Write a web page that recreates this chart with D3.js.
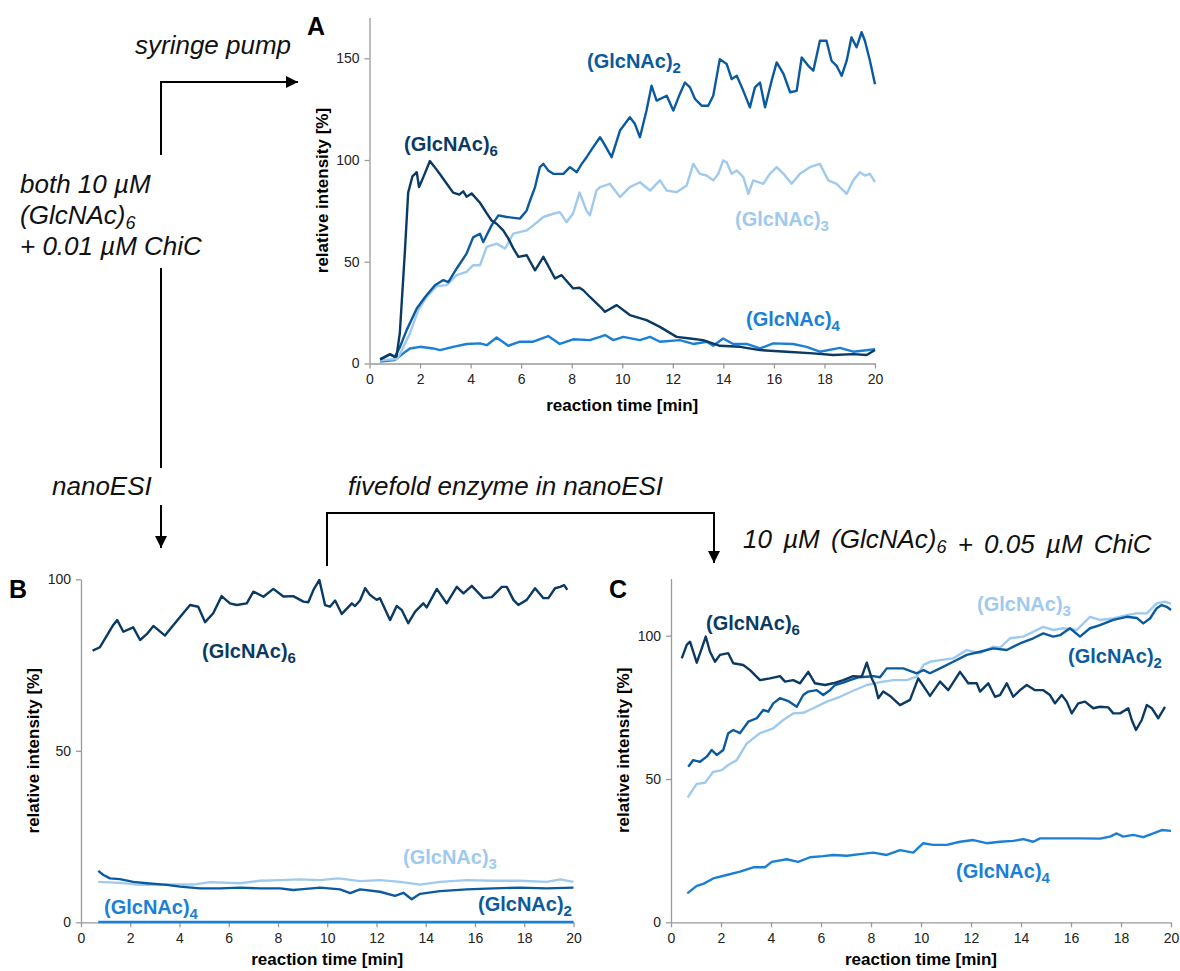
<!DOCTYPE html>
<html><head><meta charset="utf-8">
<script src="https://cdn.jsdelivr.net/npm/d3@7"></script>
<style>body{margin:0;background:#fff}svg{display:block}</style>
</head><body><svg id="c" width="1180" height="971"></svg>
<script>
// ---------- DATA ----------
const xTicks = [0,2,4,6,8,10,12,14,16,18,20];
const yTicksA = [0,50,100,150];
const yTicksBC = [0,50,100];
const seriesNames = ["(GlcNAc)6","(GlcNAc)2","(GlcNAc)3","(GlcNAc)4"];

// Panel A (syringe pump) [time min, relative intensity %]
const A6 = [[0.42,2],[0.81,4.6],[1.0,3.3],[1.07,3.5],[1.2,15],[1.4,55],[1.53,84],[1.7,92],[1.87,94],[1.96,86.7],[2.13,91.6],[2.39,99.5],[2.55,97],[2.79,93],[3.05,88.5],[3.31,84],[3.55,83],[3.71,84.6],[3.84,82],[4.04,83.6],[4.37,79],[4.64,73.8],[4.83,70.3],[5.03,68.7],[5.29,65.4],[5.49,61.5],[5.69,56.6],[5.89,52.4],[6.22,53.2],[6.55,45.8],[6.88,52.4],[7.34,41.8],[7.6,43.4],[8.06,36.9],[8.31,37.2],[8.46,36],[8.72,32.7],[9.12,28],[9.32,25.4],[9.78,28.7],[10.3,23.8],[10.96,21.3],[11.49,18],[12.15,13.1],[12.68,12.3],[13.2,11.5],[13.86,8.7],[14.66,8.2],[15.45,6.6],[16.5,5.8],[17.56,5],[18.35,4.2],[19.14,4.6],[19.67,4.2],[20,6.6]];
const A2 = [[0.42,2],[0.81,4.4],[1.0,3.2],[1.2,8],[1.47,16.4],[1.87,27],[2.2,32.7],[2.59,38.5],[2.92,41],[3.12,40],[3.45,46.7],[3.84,54],[4.1,62],[4.37,63.8],[4.5,59.7],[4.83,67.9],[5.1,72.8],[5.43,72],[5.95,71.2],[6.22,75.2],[6.35,80],[6.55,86.7],[6.74,96.5],[6.88,98.1],[7.07,94.9],[7.27,93.2],[7.67,93.2],[7.93,96.5],[8.2,94],[8.39,98],[8.59,101.4],[8.85,106.3],[9.12,111.2],[9.25,108.7],[9.58,101.4],[9.91,114.5],[10.3,121],[10.5,117.8],[10.7,111.2],[10.96,124.3],[11.16,136.5],[11.36,129.2],[11.76,131.6],[12.02,124.3],[12.28,132.5],[12.48,138.1],[12.68,135.7],[12.88,130],[13.14,126.7],[13.4,126.7],[13.6,131.6],[13.86,149.6],[14.13,147.2],[14.33,139.8],[14.53,141.4],[14.79,134],[15.05,125.9],[15.25,135.7],[15.45,138.1],[15.65,125.9],[15.91,139],[16.11,148],[16.38,142.3],[16.64,133.3],[16.9,134],[17.1,150.4],[17.36,146.3],[17.56,143.9],[17.82,158.6],[18.08,158.6],[18.28,148.8],[18.48,146.3],[18.68,141.4],[18.88,148.8],[19.07,160.3],[19.27,155.4],[19.47,162.8],[19.6,158.6],[19.8,148.8],[20,137.3]];
const A3 = [[0.42,1.5],[0.8,2],[1.1,2.2],[1.3,7],[1.6,14.8],[1.93,26.2],[2.26,32.7],[2.66,38],[3.05,38.5],[3.45,43.4],[3.84,45],[4.1,48.3],[4.37,48.3],[4.64,57.3],[5.03,58.9],[5.36,56.5],[5.69,63.8],[6.22,65.4],[6.48,67.9],[6.88,72],[7.27,73.6],[7.53,74.4],[7.8,69.5],[8.05,73.6],[8.31,84],[8.59,75],[8.72,72.8],[8.98,85],[9.12,86.7],[9.51,88.3],[9.91,81.8],[10.3,86.7],[10.7,89.1],[11.1,85],[11.49,90],[11.76,85],[12.15,84.2],[12.55,87.5],[12.81,98.1],[13.07,93.2],[13.34,92.4],[13.6,90],[13.8,93.2],[13.99,99.8],[14.13,98.9],[14.33,93.2],[14.53,94.9],[14.79,91.6],[14.99,83.4],[15.18,90],[15.58,88.3],[15.84,93.2],[16.11,96.5],[16.38,93.2],[16.7,88.3],[17.03,93.2],[17.42,96.5],[17.82,98.1],[18.15,90],[18.48,88.3],[18.88,83.4],[19.14,90],[19.4,94],[19.6,92.4],[19.8,93.2],[20,89.1]];
const A4 = [[0.42,1],[1.0,1.7],[1.34,5],[1.6,7.4],[2.0,8.2],[2.52,7.4],[2.79,6.6],[3.31,8.2],[3.84,9.6],[4.37,9.9],[4.64,9],[5.03,12.8],[5.49,8.7],[5.95,10.7],[6.48,10.7],[7.07,13.5],[7.53,9.6],[8.06,11.9],[8.72,11.5],[9.12,13.1],[9.32,14],[9.65,11.5],[10.04,13.1],[10.7,11.5],[11.1,13.1],[11.49,10.7],[12.28,11.5],[12.81,9.6],[13.34,10.7],[13.6,8.7],[13.99,12.3],[14.39,9.6],[14.92,9.6],[15.45,7.4],[15.97,9.9],[16.76,9.6],[17.29,8.2],[17.82,5.8],[18.61,7.7],[19.14,5.8],[20,7]];

// Panel B (nanoESI)
const B6 = [[0.47,79.2],[0.77,80.2],[1.31,86.7],[1.47,88.1],[1.72,84.7],[2.12,86],[2.4,82.3],[2.67,84],[2.94,86.4],[3.41,83.6],[3.68,86],[4.09,89.6],[4.43,92.5],[4.76,92],[5.04,87.5],[5.37,90.1],[5.71,95.1],[6.05,93],[6.32,92.5],[6.73,93],[7.0,96.4],[7.41,94.9],[7.81,97.2],[8.22,95],[8.62,95.1],[9.03,93.5],[9.23,93.3],[9.44,96.9],[9.68,99.8],[9.91,92.5],[10.11,92],[10.32,93.8],[10.59,89.9],[11.0,93],[11.13,92.2],[11.33,93.8],[11.54,97.4],[11.74,95.4],[12.01,94],[12.14,94.5],[12.55,88.1],[12.82,92.2],[13.03,91],[13.29,87.2],[13.57,90.6],[13.9,93],[14.04,91.8],[14.45,97.2],[14.85,93],[15.26,97.8],[15.53,95.9],[15.87,98.1],[16.34,94.5],[16.68,94.8],[17.09,97.8],[17.29,97.8],[17.56,94],[17.76,92.5],[18.1,94],[18.44,97.4],[18.78,94.5],[18.98,94.5],[19.25,97.4],[19.46,97.8],[19.62,98.3],[19.75,96.9]];
const B2 = [[0.7,15],[0.91,13.8],[1.18,12.8],[1.58,12.6],[2.12,11.8],[2.67,11.4],[3.48,10.9],[4.02,10.4],[4.83,9.9],[5.65,9.9],[6.46,10.1],[7.27,9.9],[8.08,9.9],[8.62,9.4],[8.9,9.6],[9.71,10.1],[10.52,9.6],[10.93,8.5],[11.33,9.6],[12.14,8.9],[12.75,7.7],[13.09,8.6],[13.43,6.7],[13.77,8.3],[14.58,9.1],[15.67,9.6],[16.75,9.9],[17.83,10.1],[18.91,9.9],[20,10.1]];
const B3 = [[0.7,11.8],[1.58,11.5],[2.4,10.9],[3.48,11],[4.56,11],[5.24,11.7],[6.46,11.4],[7.27,12.1],[8.08,12.3],[8.9,12.5],[9.71,12.3],[10.45,12.8],[11.33,12],[12.14,12.3],[12.96,11.8],[13.77,11],[14.58,11.8],[15.67,12.3],[16.75,12.1],[17.83,12.1],[18.91,11.8],[19.46,12.5],[20,11.8]];
const B4 = [[0.7,0.1],[5,0.1],[10,0.1],[15,0.1],[20,0.1]];

// Panel C (fivefold enzyme)
const C6 = [[0.43,92.1],[0.63,96.8],[0.76,97.9],[1.03,90.6],[1.23,95.6],[1.39,99.7],[1.56,94.4],[1.76,90.9],[1.96,93.3],[2.29,93.9],[2.49,90.4],[2.89,89.8],[3.16,88],[3.56,84.5],[3.96,85.1],[4.36,85.9],[4.56,84],[4.89,84.5],[5.16,83.4],[5.49,87.4],[5.76,83.4],[6.16,82.8],[6.49,83.4],[6.89,84.5],[7.29,85.9],[7.63,85.7],[7.83,90.6],[8.03,85.1],[8.16,82.8],[8.29,78.2],[8.49,80.5],[8.76,79],[9.16,75.8],[9.56,77.6],[9.89,85.1],[10.36,79],[10.76,84],[11.09,81],[11.56,87.4],[11.89,83.4],[12.23,83.4],[12.36,80.5],[12.69,83.4],[12.96,78.7],[13.16,79.3],[13.43,83.4],[13.69,78.7],[13.96,81],[14.23,82.8],[14.56,81],[14.89,81],[15.16,79.3],[15.36,76.4],[15.63,79.3],[15.83,77],[16.03,72.9],[16.29,76.4],[16.56,77],[16.89,74.7],[17.16,75.2],[17.49,75],[17.69,72.9],[17.96,72.9],[18.29,74.7],[18.43,70.6],[18.6,67.1],[18.83,70.6],[19.03,75.8],[19.23,74.7],[19.49,71.2],[19.76,75.2]];
const C2 = [[0.69,54.3],[0.89,56.6],[1.16,56],[1.43,57.8],[1.63,60.1],[1.83,58.4],[2.09,60.1],[2.29,66],[2.49,67.1],[2.76,66],[3.09,70],[3.43,71.2],[3.69,74.1],[3.89,73.5],[4.09,76.4],[4.36,78.2],[4.69,77.2],[5.03,75.2],[5.29,79.3],[5.49,80.5],[5.83,81],[6.09,79.3],[6.36,81],[6.56,82.8],[6.89,83.6],[7.16,84.5],[7.49,85.5],[7.83,85.7],[8.09,85.9],[8.36,85.5],[8.63,88.6],[8.89,88.6],[9.29,88.6],[9.83,86.9],[10.1,88],[10.36,86.9],[10.76,88.6],[11.29,90.9],[11.83,93.3],[12.36,94.4],[12.89,95.6],[13.43,95],[13.96,97.3],[14.49,99.1],[14.89,100.8],[15.29,99.7],[15.56,100.2],[15.96,102.6],[16.36,99.7],[16.76,102.6],[17.16,103.7],[17.69,105.5],[18.23,106.6],[18.63,106.2],[18.89,104.3],[19.16,106],[19.43,109.6],[19.63,110.7],[19.83,110.1],[20,109]];
const C3 = [[0.67,43.6],[1.03,48.3],[1.36,48.7],[1.69,52.5],[2.03,53.1],[2.29,54.9],[2.63,56.6],[3.03,62.4],[3.56,66],[4.09,67.7],[4.49,70.6],[4.89,72.9],[5.29,73.1],[5.69,74.7],[6.23,77],[6.76,78.7],[7.29,80.8],[7.83,82.8],[8.36,83.8],[8.89,84.5],[9.43,84.5],[9.83,85.7],[10.1,89.8],[10.36,90.9],[10.76,91.5],[11.29,92.1],[11.83,95],[12.36,93.9],[12.89,96.2],[13.16,95.8],[13.56,99.1],[14.09,99.7],[14.49,101.4],[14.89,103.1],[15.29,102],[15.69,102.6],[16.23,102],[16.76,106.6],[17.16,105.5],[17.69,106],[18.23,107.2],[18.63,107.8],[19.03,107.8],[19.43,111.3],[19.76,111.9],[20,111.1]];
const C4 = [[0.65,10.1],[1.03,12.7],[1.29,13.4],[1.69,15.3],[2.23,16.5],[2.76,17.7],[3.29,19.2],[3.76,19.2],[4.03,21.1],[4.63,22],[5.09,21.1],[5.56,22.7],[6.09,23.1],[6.49,23.5],[7.03,23.2],[7.56,23.8],[8.09,24.3],[8.63,23.5],[9.16,25.2],[9.69,24.3],[10.09,27.6],[10.49,27],[11.03,27],[11.56,28.1],[12.09,28.7],[12.63,27.6],[13.16,28.1],[13.69,28.4],[14.09,29],[14.49,28.1],[14.76,29.3],[15.56,29.3],[16.36,29.3],[17.16,29.2],[17.56,29.9],[17.83,31],[18.09,29.9],[18.49,30.5],[18.89,29.7],[19.29,31],[19.63,32.2],[20,31.9]];

// ---------- STYLE ----------
const col = {g6:"#0a3a63", g2:"#0b5a9e", g3:"#9fcaee", g4:"#1b7fd6"};
const svg = d3.select("#c");
const FONT = "'Liberation Sans', Arial, sans-serif";

function panel(cfg){
  const x = d3.scaleLinear().domain([0,20]).range([cfg.x0, cfg.x1]);
  const y = d3.scaleLinear().domain([0,cfg.ymax]).range([cfg.y0, cfg.y1]);
  const g = svg.append("g");
  const xa = g.append("g").attr("transform",`translate(0,${cfg.y0})`)
    .call(d3.axisBottom(x).tickValues(xTicks).tickSize(5).tickSizeOuter(0).tickPadding(6));
  const ya = g.append("g").attr("transform",`translate(${cfg.x0},0)`)
    .call(d3.axisLeft(y).tickValues(cfg.yticks).tickSize(5).tickSizeOuter(0).tickPadding(5));
  [xa,ya].forEach(a=>{
    a.select(".domain").attr("stroke","#9a9a9a").attr("stroke-width",1.3);
    a.selectAll(".tick line").attr("stroke","#9a9a9a").attr("stroke-width",1.3);
    a.selectAll(".tick text").attr("fill","#222").style("font-family",FONT).style("font-size","14px");
  });
  g.append("text").attr("x",(cfg.x0+cfg.x1)/2).attr("y",cfg.y0+cfg.xt).attr("text-anchor","middle")
    .style("font-family",FONT).style("font-weight","bold").style("font-size","17px").text("reaction time [min]");
  g.append("text").attr("transform",`translate(${cfg.x0-42},${(cfg.y0+cfg.y1)/2}) rotate(-90)`).attr("text-anchor","middle")
    .style("font-family",FONT).style("font-weight","bold").style("font-size","17px").text("relative intensity [%]");
  const line = d3.line().x(d=>x(d[0])).y(d=>y(d[1])).curve(d3.curveLinear);
  cfg.series.forEach(s=>{
    g.append("path").datum(s.data).attr("d",line).attr("fill","none")
      .attr("stroke",s.c).attr("stroke-width",2.4).attr("stroke-linejoin","round");
  });
  cfg.labels.forEach(l=>{
    const t = g.append("text").attr("x",l.x).attr("y",l.y).attr("fill",l.c)
      .style("font-family",FONT).style("font-weight","bold").style("font-size","20px");
    t.append("tspan").text(l.t.slice(0,-1));
    t.append("tspan").attr("dy",5).style("font-size","15px").text(l.t.slice(-1));
  });
  svg.append("text").attr("x",cfg.lx).attr("y",cfg.ly).style("font-family",FONT)
    .style("font-weight","bold").style("font-size","25px").text(cfg.letter);
}

panel({letter:"A",lx:307,ly:35,x0:369.5,x1:875,y0:363.5,y1:17.6,ymax:170,yticks:yTicksA,xt:47,
  series:[{data:A4,c:col.g4},{data:A3,c:col.g3},{data:A2,c:col.g2},{data:A6,c:col.g6}],
  labels:[{t:seriesNames[0],x:404,y:151,c:col.g6},{t:seriesNames[1],x:587,y:68,c:col.g2},
          {t:seriesNames[2],x:735,y:226,c:col.g3},{t:seriesNames[3],x:746,y:326,c:col.g4}]});
panel({letter:"B",lx:9,ly:598,x0:81,x1:573.5,y0:922.3,y1:579.3,ymax:100,yticks:yTicksBC,xt:43,
  series:[{data:B4,c:col.g4},{data:B3,c:col.g3},{data:B2,c:col.g2},{data:B6,c:col.g6}],
  labels:[{t:seriesNames[0],x:202,y:658,c:col.g6},{t:seriesNames[2],x:403,y:864,c:col.g3},
          {t:seriesNames[1],x:478,y:911,c:col.g2},{t:seriesNames[3],x:104,y:914,c:col.g4}]});
panel({letter:"C",lx:609,ly:598,x0:671,x1:1171,y0:922.3,y1:578.4,ymax:120,yticks:yTicksBC,xt:43,
  series:[{data:C4,c:col.g4},{data:C3,c:col.g3},{data:C2,c:col.g2},{data:C6,c:col.g6}],
  labels:[{t:seriesNames[0],x:706,y:630,c:col.g6},{t:seriesNames[2],x:977,y:611,c:col.g3},
          {t:seriesNames[1],x:1068,y:663,c:col.g2},{t:seriesNames[3],x:956,y:878,c:col.g4}]});

// ---------- ANNOTATIONS ----------
svg.append("defs").append("marker").attr("id","ah").attr("viewBox","0 0 10 10")
  .attr("refX",10).attr("refY",5).attr("markerWidth",6).attr("markerHeight",6)
  .attr("markerUnits","strokeWidth").attr("orient","auto")
  .append("path").attr("d","M0,0 L10,5 L0,10 z").attr("fill","#000");
function path(d,arrow){
  const p = svg.append("path").attr("d",d).attr("stroke","#000").attr("stroke-width",2).attr("fill","none");
  if(arrow) p.attr("marker-end","url(#ah)");
}
path("M161,155 L161,82 L298,82",true);
path("M161,268 L161,468",false);
path("M161,505 L161,548",true);
path("M327,566 L327,513 L714,513 L714,563",true);

function itext(x,y,parts,ws){
  const t = svg.append("text").attr("x",x).attr("y",y).style("font-family",FONT)
    .style("font-style","italic").style("font-size","26px").attr("fill","#111")
    .style("word-spacing",(ws||0)+"px");
  parts.forEach(p=>{
    if(p.sub){ t.append("tspan").attr("dy",5).style("font-size","18px").text(p.s);
               t.append("tspan").attr("dy",-5).text(""); }
    else t.append("tspan").text(p.s);
  });
}
itext(135,54,[{s:"syringe pump"}]);
itext(20,193,[{s:"both 10 µM"}]);
itext(20,224,[{s:"(GlcNAc)"},{s:"6",sub:true}]);
itext(20,255,[{s:"+ 0.01 µM ChiC"}]);
itext(52,495,[{s:"nanoESI"}]);
itext(348,495,[{s:"fivefold enzyme in nanoESI"}]);
itext(743,548,[{s:"10 µM (GlcNAc)"},{s:"6",sub:true},{s:" + 0.05 µM ChiC"}],4);
</script></body></html>
